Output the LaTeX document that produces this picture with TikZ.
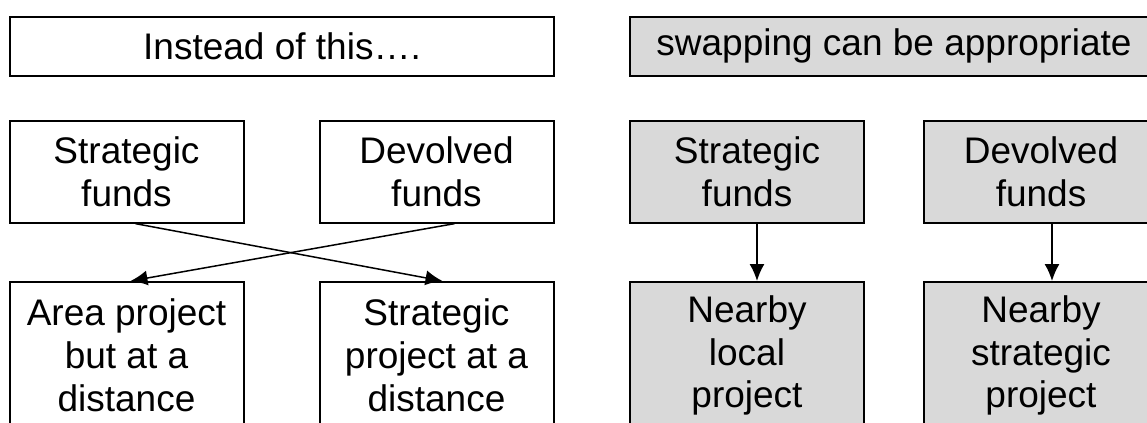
\documentclass[tikz,border=0pt]{standalone}
\usepackage{fontspec}
\setmainfont{Liberation Sans}
\usetikzlibrary{arrows.meta,positioning}
\definecolor{swapgray}{RGB}{217,217,217}

\begin{document}
\begin{tikzpicture}[x=0.5pt, y=-0.5pt,
  box/.style={rectangle, draw, line width=1pt, inner sep=0pt, minimum width=117pt, align=center, font=\fontsize{18.5}{21.4}\selectfont},
  headbox/.style={box, minimum height=29.5pt},
  fundbox/.style={box, minimum height=50.85pt},
  projbox/.style={box, minimum height=73.5pt},
  swap/.style={fill=swapgray},
  link/.style={-{Latex[length=8.5pt,width=7.5pt]}, line width=0.75pt}]
\useasboundingbox (0,0) rectangle (1147,423);
\clip (0,0) rectangle (1147,423);
% headings
\node[headbox, minimum width=272pt] (instead) at (282,46.2) {Instead of this….};
\node[headbox, swap, minimum width=264pt] (swapping) at (894,46.2) {swapping can be appropriate};
% left: crossed over
\node[fundbox] (stratfunds) at (126.5,171.8) {Strategic\\funds};
\node[fundbox] (devfunds) at (436.5,171.8) {Devolved\\funds};
\node[projbox] (areaproj) at (126.5,355.5) {Area project\\but at a\\distance};
\node[projbox] (stratproj) at (436.5,355.5) {Strategic\\project at a\\distance};
% right: swapped
\node[fundbox, swap] (swapstrat) at (747,171.8) {Strategic\\funds};
\node[fundbox, swap] (swapdev) at (1041,171.8) {Devolved\\funds};
\node[projbox, swap] (localproj) at (747,355.5) {Nearby\\local\\project};
\node[projbox, swap] (nearstrat) at (1041,355.5) {Nearby\\strategic\\project};
\draw[link] ([xshift=4.5pt]stratfunds.south) -- ([xshift=3pt]stratproj.north);
\draw[link] ([xshift=9pt]devfunds.south) -- ([xshift=2pt]areaproj.north);
\draw[link] ([xshift=5pt]swapstrat.south) -- ([xshift=5pt]localproj.north);
\draw[link] ([xshift=5.5pt]swapdev.south) -- ([xshift=5.5pt]nearstrat.north);
\end{tikzpicture}
\end{document}
